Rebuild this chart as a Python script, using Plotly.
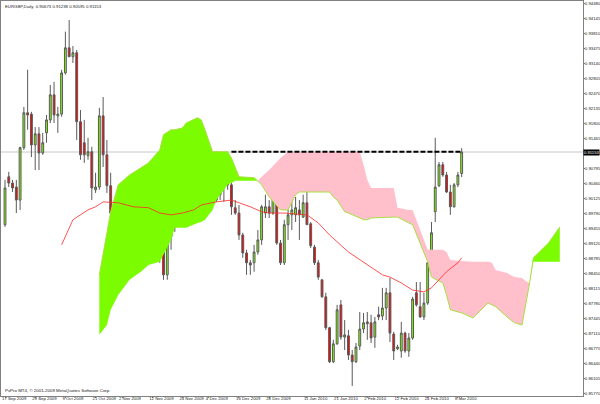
import plotly.graph_objects as go

# ---------------- data (EURGBP daily) ----------------
bar_open = [0.8953, 0.9060, 0.9046, 0.9037, 0.9008, 0.9125, 0.9203, 0.9200, 0.9131, 0.9156,
            0.9113, 0.9158, 0.9187, 0.9243, 0.9196, 0.9200, 0.9292, 0.9348, 0.9328, 0.9337,
            0.9183, 0.9136, 0.9107, 0.9116, 0.9031, 0.9037, 0.9196, 0.9109, 0.9040, 0.8979,
            0.8953, 0.8946, 0.9002, 0.8953, 0.8970, 0.8959, 0.8924, 0.8946, 0.8941, 0.9037,
            0.8950, 0.8926, 0.8892, 0.8841, 0.8926, 0.8948, 0.8997, 0.9004, 0.9017, 0.9053,
            0.9082, 0.9075, 0.9120, 0.9071, 0.9093, 0.9037, 0.9008, 0.9020, 0.9037, 0.9046,
            0.9042, 0.8991, 0.8979, 0.8930, 0.8890, 0.8868, 0.8868, 0.8892, 0.8919, 0.8979,
            0.8993, 0.8979, 0.9020, 0.8912, 0.8868, 0.8953, 0.8975, 0.8975, 0.8986, 0.8970,
            0.9002, 0.8955, 0.8903, 0.8868, 0.8830, 0.8792, 0.8723, 0.8647, 0.8687, 0.8774,
            0.8702, 0.8705, 0.8662, 0.8647, 0.8682, 0.8720, 0.8736, 0.8734, 0.8702, 0.8752,
            0.8749, 0.8767, 0.8801, 0.8709, 0.8676, 0.8671, 0.8711, 0.8671, 0.8700, 0.8801,
            0.8770, 0.8747, 0.8778, 0.8868, 0.8982, 0.9040, 0.9087, 0.9064, 0.9026, 0.8993,
            0.9042, 0.90673]
bar_high = [0.9053, 0.9071, 0.9053, 0.9053, 0.9127, 0.9216, 0.9299, 0.9205, 0.9171, 0.9171,
            0.9158, 0.9198, 0.9265, 0.9272, 0.9216, 0.9299, 0.9384, 0.9410, 0.9352, 0.9343,
            0.9209, 0.9187, 0.9147, 0.9127, 0.9069, 0.9214, 0.9238, 0.9142, 0.9069, 0.8993,
            0.8964, 0.9008, 0.9024, 0.8993, 0.8993, 0.8970, 0.8959, 0.8959, 0.9046, 0.9060,
            0.8959, 0.8937, 0.8901, 0.8937, 0.8975, 0.9008, 0.9020, 0.9031, 0.9064, 0.9109,
            0.9093, 0.9149, 0.9158, 0.9109, 0.9109, 0.9064, 0.9071, 0.9091, 0.9069, 0.9075,
            0.9046, 0.9008, 0.8997, 0.8935, 0.8897, 0.8874, 0.8908, 0.8941, 0.8997, 0.9020,
            0.9008, 0.9053, 0.9046, 0.8919, 0.8964, 0.8993, 0.9008, 0.9015, 0.9008, 0.9020,
            0.9026, 0.8959, 0.8908, 0.8874, 0.8830, 0.8801, 0.8725, 0.8696, 0.8774, 0.8785,
            0.8740, 0.8718, 0.8673, 0.8689, 0.8758, 0.8756, 0.8758, 0.8752, 0.8747, 0.8770,
            0.8812, 0.8812, 0.8834, 0.8714, 0.8685, 0.8736, 0.8714, 0.8711, 0.8792, 0.8825,
            0.8825, 0.8801, 0.8870, 0.8959, 0.9147, 0.9093, 0.9093, 0.9071, 0.9042, 0.9046,
            0.9071, 0.91238]
bar_low = [0.8948, 0.9037, 0.9026, 0.8979, 0.8986, 0.9120, 0.9165, 0.9104, 0.9075, 0.9075,
           0.9109, 0.9136, 0.9180, 0.9180, 0.9158, 0.9194, 0.9288, 0.9328, 0.9314, 0.9142,
           0.9098, 0.9091, 0.9098, 0.9008, 0.9024, 0.9031, 0.9082, 0.9024, 0.8964, 0.8926,
           0.8908, 0.8926, 0.8935, 0.8935, 0.8935, 0.8919, 0.8908, 0.8915, 0.8935, 0.8946,
           0.8924, 0.8868, 0.8830, 0.8830, 0.8897, 0.8937, 0.8991, 0.8995, 0.9008, 0.9042,
           0.9053, 0.9071, 0.9064, 0.9053, 0.8986, 0.9004, 0.9004, 0.9008, 0.9004, 0.9031,
           0.8975, 0.8975, 0.8919, 0.8879, 0.8841, 0.8841, 0.8848, 0.8886, 0.8908, 0.8968,
           0.8968, 0.8975, 0.8908, 0.8863, 0.8863, 0.8919, 0.8941, 0.8959, 0.8919, 0.8968,
           0.8953, 0.8901, 0.8863, 0.8830, 0.8790, 0.8718, 0.8644, 0.8644, 0.8685, 0.8696,
           0.8673, 0.8651, 0.8593, 0.8644, 0.8673, 0.8711, 0.8696, 0.8689, 0.8678, 0.8740,
           0.8740, 0.8740, 0.8691, 0.8651, 0.8673, 0.8656, 0.8667, 0.8658, 0.8696, 0.8770,
           0.8745, 0.8740, 0.8774, 0.8859, 0.8959, 0.9037, 0.9060, 0.9024, 0.8975, 0.8991,
           0.9037, 0.90595]
bar_close = [0.9035, 0.9046, 0.9035, 0.9008, 0.9125, 0.9203, 0.9198, 0.9131, 0.9156, 0.9113,
             0.9136, 0.9187, 0.9243, 0.9198, 0.9200, 0.9292, 0.9348, 0.9328, 0.9337, 0.9183,
             0.9109, 0.9109, 0.9116, 0.9035, 0.9037, 0.9196, 0.9109, 0.9040, 0.8979, 0.8953,
             0.8935, 0.8991, 0.8953, 0.8979, 0.8959, 0.8930, 0.8946, 0.8939, 0.9037, 0.8950,
             0.8930, 0.8892, 0.8841, 0.8926, 0.8948, 0.8999, 0.9008, 0.9017, 0.9053, 0.9082,
             0.9080, 0.9120, 0.9071, 0.9098, 0.9011, 0.9011, 0.9042, 0.9046, 0.9049, 0.9042,
             0.8993, 0.8979, 0.8930, 0.8890, 0.8868, 0.8863, 0.8892, 0.8919, 0.8993, 0.8993,
             0.8979, 0.9020, 0.8912, 0.8868, 0.8953, 0.8975, 0.8986, 0.8991, 0.8975, 0.9002,
             0.8953, 0.8906, 0.8868, 0.8836, 0.8792, 0.8723, 0.8647, 0.8687, 0.8763, 0.8702,
             0.8707, 0.8662, 0.8647, 0.8680, 0.8720, 0.8734, 0.8732, 0.8700, 0.8736, 0.8747,
             0.8767, 0.8801, 0.8711, 0.8671, 0.8680, 0.8711, 0.8671, 0.8700, 0.8787, 0.8774,
             0.8747, 0.8778, 0.8868, 0.8935, 0.9037, 0.9087, 0.9064, 0.9026, 0.8993, 0.9042,
             0.9064, 0.91153]
bar_idx = list(range(len(bar_open)))

date_tick_idx = [0, 8, 16, 24, 31, 39, 47, 54, 62, 70, 80, 88, 96, 104, 112, 120]
date_tick_text = ["17 Sep 2009", "29 Sep 2009", "9 Oct 2009", "21 Oct 2009", "2 Nov 2009",
                  "12 Nov 2009", "24 Nov 2009", "4 Dec 2009", "16 Dec 2009", "28 Dec 2009",
                  "11 Jan 2010", "21 Jan 2010", "2 Feb 2010", "12 Feb 2010", "24 Feb 2010",
                  "8 Mar 2010"]

price_ticks = [0.94480, 0.94145, 0.93810, 0.93475, 0.93140, 0.92805, 0.92470, 0.92135,
               0.91800, 0.91465, 0.91130, 0.90795, 0.90460, 0.90125, 0.89790, 0.89455,
               0.89120, 0.88785, 0.88450, 0.88115, 0.87780, 0.87445, 0.87110, 0.86775,
               0.86440, 0.86105, 0.85770]

# moving average (red line)
ma_idx = [15, 16, 18, 22, 24, 26, 30, 34, 38, 41, 44, 47, 50, 52, 56, 60, 62, 65, 68, 70,
          74, 77, 80, 83, 86, 91, 96, 100, 102, 105, 108, 111, 113, 115, 117, 120, 121]
ma_val = [0.8908, 0.8926, 0.8964, 0.8986, 0.8993, 0.9004, 0.9002, 0.8993, 0.8991, 0.8979,
          0.8975, 0.8979, 0.8986, 0.8997, 0.9004, 0.9008, 0.9002, 0.8993, 0.8982, 0.8979,
          0.8979, 0.8977, 0.8975, 0.8957, 0.8930, 0.8892, 0.8863, 0.8841, 0.8836, 0.8823,
          0.8807, 0.8803, 0.8812, 0.8830, 0.8848, 0.8868, 0.8879]

# Ichimoku cloud (senkou span A / B, already shifted forward)
cloud_idx = [25, 27, 28, 30, 33, 36, 38, 41, 42, 44, 45, 47, 48, 51, 52, 53, 55, 56, 59, 60,
             61, 62, 66, 67, 68, 70, 73, 75, 77, 78, 86, 87, 88, 90, 91, 94, 95, 96, 97, 103,
             104, 107, 108, 112, 113, 116, 117, 118, 121, 124, 128, 129, 130, 133, 135, 137,
             138, 139, 140, 144, 147]
span_a = [0.8841, 0.8941, 0.8982, 0.9042, 0.9064, 0.9080, 0.9091, 0.9120, 0.9154, 0.9165,
          0.9165, 0.9169, 0.9180, 0.9192, 0.9187, 0.9165, 0.9116, 0.9116, 0.9116, 0.9102,
          0.9080, 0.9060, 0.9058, 0.9051, 0.9042, 0.9015, 0.8986, 0.8986, 0.9020, 0.9026,
          0.9026, 0.9015, 0.9008, 0.8982, 0.8979, 0.8968, 0.8964, 0.8964, 0.8968, 0.8970,
          0.8970, 0.8957, 0.8953, 0.8870, 0.8836, 0.8823, 0.8796, 0.8763, 0.8756, 0.8745,
          0.8778, 0.8774, 0.8770, 0.8747, 0.8734, 0.8729, 0.8774, 0.8823, 0.8879, 0.8912,
          0.8948]
span_b = [0.8707, 0.8729, 0.8763, 0.8796, 0.8830, 0.8848, 0.8863, 0.8870, 0.8886, 0.8919,
          0.8946, 0.8946, 0.8946, 0.8957, 0.8959, 0.8964, 0.8986, 0.9008, 0.9042, 0.9046,
          0.9051, 0.9051, 0.9051, 0.9051, 0.9060, 0.9075, 0.9102, 0.9116, 0.9116, 0.9116,
          0.9116, 0.9116, 0.9116, 0.9116, 0.9116, 0.9116, 0.9087, 0.9053, 0.9035, 0.9035,
          0.8991, 0.8986, 0.8986, 0.8897, 0.8897, 0.8897, 0.8892, 0.8874, 0.8872, 0.8870,
          0.8870, 0.8868, 0.8852, 0.8845, 0.8836, 0.8834, 0.8827, 0.8823, 0.8870, 0.8870,
          0.8870]

# horizontal dashed level drawn on the chart
level_idx = [60, 121]
level_price = [0.9116, 0.9116]

last_price = 0.91153
header_text = "EURGBP,Daily  0.90673 0.91238 0.90595 0.91153"
footer_text = "PvPro MT4, \u00a9 2001-2009 MetaQuotes Software Corp."

# ---------------- figure ----------------
GREEN = "#7CFC00"
PINK = "#FFC0CB"
FONT = "Liberation Sans, Arial, sans-serif"


def cloud_runs(xs, a, b):
    def sgn(v):
        return (v > 1e-12) - (v < -1e-12)
    runs = []
    cur = [(xs[0], a[0], b[0])]
    cur_s = sgn(a[0] - b[0])
    for k in range(1, len(xs)):
        d0 = a[k - 1] - b[k - 1]
        d1 = a[k] - b[k]
        s = sgn(d1)
        if s == 0 or cur_s == 0 or s == cur_s:
            cur.append((xs[k], a[k], b[k]))
            if cur_s == 0:
                cur_s = s
        else:
            t = d0 / (d0 - d1)
            xc = xs[k - 1] + t * (xs[k] - xs[k - 1])
            yc = a[k - 1] + t * (a[k] - a[k - 1])
            cur.append((xc, yc, yc))
            runs.append((cur_s, cur))
            cur = [(xc, yc, yc), (xs[k], a[k], b[k])]
            cur_s = s
    runs.append((cur_s, cur))
    return runs


fig = go.Figure()

for s, run in cloud_runs(cloud_idx, span_a, span_b):
    px = [p[0] for p in run] + [p[0] for p in reversed(run)]
    py = [p[1] for p in run] + [p[2] for p in reversed(run)]
    fig.add_trace(go.Scatter(x=px, y=py, mode="lines", fill="toself",
                             fillcolor=GREEN if s > 0 else PINK,
                             line=dict(width=0, color=GREEN if s > 0 else PINK),
                             hoverinfo="skip", showlegend=False))

fig.add_trace(go.Scatter(x=cloud_idx, y=span_a, mode="lines",
                         line=dict(color="#A8E040", width=1),
                         hoverinfo="skip", showlegend=False))

fig.add_trace(go.Candlestick(
    x=bar_idx, open=bar_open, high=bar_high, low=bar_low, close=bar_close,
    increasing=dict(fillcolor=GREEN, line=dict(color="#5a5a5a", width=1)),
    decreasing=dict(fillcolor="#FF0000", line=dict(color="#5a5a5a", width=1)),
    whiskerwidth=0, showlegend=False, hoverinfo="skip"))

fig.add_trace(go.Scatter(x=ma_idx, y=ma_val, mode="lines",
                         line=dict(color="rgba(255,40,40,0.8)", width=1),
                         hoverinfo="skip", showlegend=False))

fig.add_trace(go.Scatter(x=level_idx, y=level_price, mode="lines",
                         line=dict(color="#000000", width=2, dash="5px,2px"),
                         hoverinfo="skip", showlegend=False))

fig.add_shape(type="line", xref="paper", x0=0, x1=1, yref="y", y0=last_price, y1=last_price,
              line=dict(color="#C8C8C8", width=1), layer="below")

fig.add_annotation(xref="paper", yref="y", x=1, y=last_price, xanchor="left", yanchor="middle",
                   text=f"{last_price:.5f}", showarrow=False, bgcolor="#000000",
                   font=dict(color="#FFFFFF", size=4.2, family=FONT), borderpad=0, xshift=0)

fig.add_annotation(xref="paper", yref="paper", x=0.004, y=0.987, xanchor="left", yanchor="middle",
                   text=header_text, showarrow=False,
                   font=dict(color="#202020", size=4.3, family=FONT))

fig.add_annotation(xref="paper", yref="paper", x=0.003, y=0.015, xanchor="left", yanchor="middle",
                   text=footer_text, showarrow=False,
                   font=dict(color="#202020", size=4.4, family=FONT))

fig.update_layout(
    template="none",
    width=600, height=404,
    margin=dict(l=1, r=17, t=1, b=8, pad=0),
    paper_bgcolor="#FFFFFF", plot_bgcolor="#FFFFFF",
    showlegend=False,
    xaxis=dict(range=[-1.06, 153.15], showgrid=False, zeroline=False,
               showline=True, mirror=True, linecolor="#808080", linewidth=1,
               ticks="outside", ticklen=1, tickcolor="#808080",
               tickvals=date_tick_idx, ticktext=date_tick_text, tickangle=0,
               tickfont=dict(size=4.3, color="#202020", family=FONT),
               ticklabelposition="outside right", ticklabelshift=-4,
               ticklabelstandoff=-2,
               rangeslider=dict(visible=False), automargin=False, fixedrange=True),
    yaxis=dict(side="right", range=[0.85705, 0.94525], showgrid=False, zeroline=False,
               showline=True, mirror=True, linecolor="#808080", linewidth=1,
               ticks="outside", ticklen=1, tickcolor="#808080",
               tickvals=price_ticks, ticktext=[f"{v:.5f}" for v in price_ticks],
               tickfont=dict(size=4.3, color="#202020", family=FONT),
               ticklabelstandoff=-1,
               automargin=False, fixedrange=True),
)

fig.write_html("out.html", config={"displayModeBar": False},
               post_script="document.body.style.margin='0';document.body.style.overflow='hidden';")
